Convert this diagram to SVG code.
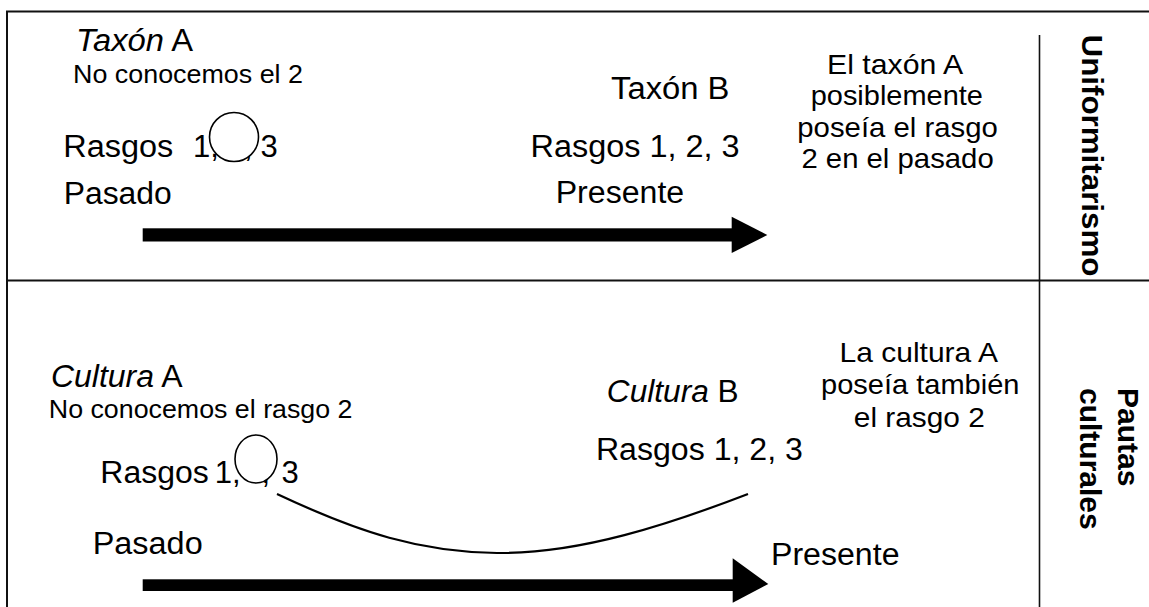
<svg xmlns="http://www.w3.org/2000/svg" width="1149" height="607" viewBox="0 0 1149 607">
  <style>
    text { font-family: "Liberation Sans", Arial, sans-serif; fill: #000; }
    .big { font-size: 31px; }
    .note { font-size: 28.5px; }
    .small { font-size: 26px; }
    .side { font-size: 30px; font-weight: bold; }
    .it { font-style: italic; }
    .frame { stroke: #111; stroke-width: 2; fill: none; }
    .divider { stroke: #111; stroke-width: 1.6; fill: none; }
    .mark { fill: #fff; stroke: #000; stroke-width: 1.6; }
    .shaft { fill: #000; }
    .curve { fill: none; stroke: #000; stroke-width: 2.2; }
  </style>

  <!-- table frame -->
  <g id="frame">
    <path class="frame" d="M7,607 V11.5 H1149 M7,280.5 H1149"/>
    <path class="divider" d="M1039.5,35 V607"/>
  </g>

  <!-- upper panel: taxa -->
  <g id="taxon-a">
    <text class="big" x="76" y="51" textLength="117" lengthAdjust="spacingAndGlyphs"><tspan class="it">Taxón</tspan> A</text>
    <text class="small" x="73" y="82.5" textLength="230" lengthAdjust="spacingAndGlyphs">No conocemos el 2</text>
    <text class="big" x="63.3" y="157" textLength="110" lengthAdjust="spacingAndGlyphs">Rasgos</text>
    <text class="big" x="193" y="157">1,</text>
    <text class="big" x="244" y="157">,</text>
    <text class="big" x="260.4" y="157">3</text>
    <circle class="mark" cx="234" cy="137" r="24.5"/>
    <text class="big" x="63.7" y="204.3" textLength="108" lengthAdjust="spacingAndGlyphs">Pasado</text>
  </g>

  <g id="taxon-b">
    <text class="big" x="611" y="99" textLength="118.5" lengthAdjust="spacingAndGlyphs">Taxón B</text>
    <text class="big" x="530.6" y="157" textLength="209" lengthAdjust="spacingAndGlyphs">Rasgos 1, 2, 3</text>
    <text class="big" x="555.7" y="202.7" textLength="128.5" lengthAdjust="spacingAndGlyphs">Presente</text>
  </g>

  <g id="taxon-inference">
    <text class="note" x="827" y="74" textLength="136.3" lengthAdjust="spacingAndGlyphs">El taxón A</text>
    <text class="note" x="810.7" y="105" textLength="172.2" lengthAdjust="spacingAndGlyphs">posiblemente</text>
    <text class="note" x="797.3" y="136.5" textLength="200.5" lengthAdjust="spacingAndGlyphs">poseía el rasgo</text>
    <text class="note" x="801.4" y="167.7" textLength="192.3" lengthAdjust="spacingAndGlyphs">2 en el pasado</text>
  </g>

  <g id="label-uniformitarismo">
    <text class="side" transform="translate(1082,34.5) rotate(90)" textLength="242" lengthAdjust="spacingAndGlyphs">Uniformitarismo</text>
  </g>

  <!-- lower panel: cultures -->
  <g id="cultura-a">
    <text class="big" x="51" y="386.7" textLength="131.5" lengthAdjust="spacingAndGlyphs"><tspan class="it">Cultura</tspan> A</text>
    <text class="small" x="48.8" y="417.7" textLength="303.7" lengthAdjust="spacingAndGlyphs">No conocemos el rasgo 2</text>
    <text class="big" x="100.3" y="482.5" textLength="108.5" lengthAdjust="spacingAndGlyphs">Rasgos</text>
    <text class="big" x="214.7" y="482.5">1,</text>
    <text class="big" x="261.4" y="482.5">,</text>
    <text class="big" x="281.4" y="482.5">3</text>
    <ellipse class="mark" cx="256" cy="459" rx="21" ry="24"/>
    <text class="big" x="92.7" y="554" textLength="110" lengthAdjust="spacingAndGlyphs">Pasado</text>
  </g>

  <g id="cultura-b">
    <text class="big" x="606.8" y="402.3" textLength="131.9" lengthAdjust="spacingAndGlyphs"><tspan class="it">Cultura</tspan> B</text>
    <text class="big" x="595.9" y="460" textLength="207" lengthAdjust="spacingAndGlyphs">Rasgos 1, 2, 3</text>
    <text class="big" x="771" y="565" textLength="128.5" lengthAdjust="spacingAndGlyphs">Presente</text>
  </g>

  <g id="cultura-inference">
    <text class="note" x="839.5" y="361.7" textLength="158.5" lengthAdjust="spacingAndGlyphs">La cultura A</text>
    <text class="note" x="821" y="394" textLength="198.5" lengthAdjust="spacingAndGlyphs">poseía también</text>
    <text class="note" x="853.8" y="426.7" textLength="131" lengthAdjust="spacingAndGlyphs">el rasgo 2</text>
  </g>

  <g id="label-pautas">
    <text class="side" transform="translate(1118,388) rotate(90)">Pautas</text>
    <text class="side" transform="translate(1080,388) rotate(90)">culturales</text>
  </g>

  <!-- time arrows and the link between the two cultures -->
  <g id="connectors">
    <g id="arrow-upper">
      <rect class="shaft" x="142.7" y="228.3" width="590" height="13.2"/>
      <polygon class="shaft" points="731.7,216.7 767.3,235 731.7,252.9"/>
    </g>
    <g id="arrow-lower">
      <rect class="shaft" x="142.7" y="579.3" width="591" height="11.7"/>
      <polygon class="shaft" points="732.7,558.3 768.3,584 732.7,602.7"/>
    </g>
    <path id="culture-link" class="curve" d="M277,494 C360,533 420,552 497,553 C580,554 670,524 748,494"/>
  </g>
</svg>
